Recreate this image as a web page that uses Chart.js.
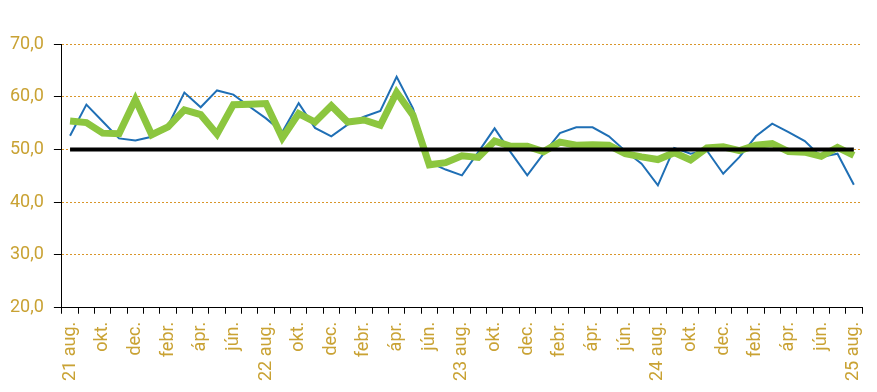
<!DOCTYPE html>
<html lang="hu">
<head>
  <meta charset="UTF-8" />
  <title>Index</title>
  <script src="https://cdn.jsdelivr.net/npm/chart.js"></script>
  <style>
    body { margin: 0; background: #fff; }
    .chart-box { width: 877px; height: 392px; }
  </style>
</head>
<body>
  <div class="chart-box"><canvas id="chart" width="877" height="392"></canvas></div>

  <script>
    const months = [
      '21 aug.', 'szept.', 'okt.', 'nov.', 'dec.', 'jan.', 'febr.', 'márc.', 'ápr.', 'máj.', 'jún.', 'júl.',
      '22 aug.', 'szept.', 'okt.', 'nov.', 'dec.', 'jan.', 'febr.', 'márc.', 'ápr.', 'máj.', 'jún.', 'júl.',
      '23 aug.', 'szept.', 'okt.', 'nov.', 'dec.', 'jan.', 'febr.', 'márc.', 'ápr.', 'máj.', 'jún.', 'júl.',
      '24 aug.', 'szept.', 'okt.', 'nov.', 'dec.', 'jan.', 'febr.', 'márc.', 'ápr.', 'máj.', 'jún.', 'júl.',
      '25 aug.'
    ];

    const blueSeries = [
      52.6, 58.5, 55.3, 52.1, 51.7, 52.4, 54.5, 60.8, 58.0, 61.2, 60.4, 58.1,
      55.9, 53.3, 58.8, 54.1, 52.5, 54.7, 56.2, 57.3, 63.8, 57.8, 47.6, 46.2,
      45.1, 49.5, 54.0, 49.4, 45.1, 49.2, 53.1, 54.2, 54.2, 52.5, 49.7, 47.3,
      43.2, 50.3, 49.2, 49.8, 45.4, 48.6, 52.5, 54.9, 53.3, 51.6, 48.6, 49.2,
      43.3
    ];

    const greenSeries = [
      55.4, 55.1, 53.1, 53.0, 59.5, 52.8, 54.3, 57.5, 56.6, 52.9, 58.5, 58.6,
      58.7, 52.2, 56.8, 55.2, 58.3, 55.2, 55.6, 54.6, 60.8, 56.5, 47.1, 47.5,
      48.8, 48.5, 51.6, 50.6, 50.6, 49.6, 51.4, 50.8, 50.9, 50.8, 49.2, 48.6,
      48.1, 49.4, 48.0, 50.3, 50.5, 49.8, 50.8, 51.1, 49.6, 49.5, 48.7, 50.4,
      48.9
    ];

    const thresholdLine = [
      50, 50, 50, 50, 50, 50, 50, 50, 50, 50, 50, 50,
      50, 50, 50, 50, 50, 50, 50, 50, 50, 50, 50, 50,
      50, 50, 50, 50, 50, 50, 50, 50, 50, 50, 50, 50,
      50, 50, 50, 50, 50, 50, 50, 50, 50, 50, 50, 50,
      50
    ];

    const yTicks = [20, 30, 40, 50, 60, 70];

    const gold = '#c9a233';
    const fontFamily = "'Roboto', sans-serif";

    const ctx = document.getElementById('chart').getContext('2d');
    new Chart(ctx, {
      type: 'line',
      data: {
        labels: months,
        datasets: [
          {
            data: thresholdLine,
            borderColor: '#000000',
            borderWidth: 4,
            pointRadius: 0,
            order: 0
          },
          {
            data: greenSeries,
            borderColor: '#8cc63f',
            borderWidth: 7,
            pointRadius: 0,
            order: 1
          },
          {
            data: blueSeries,
            borderColor: '#1f6fb5',
            borderWidth: 2,
            pointRadius: 0,
            order: 2
          }
        ]
      },
      options: {
        responsive: false,
        animation: false,
        layout: { padding: { top: 44, right: 15, bottom: 3, left: 0 } },
        plugins: {
          legend: { display: false },
          tooltip: { enabled: false }
        },
        elements: { line: { tension: 0 } },
        scales: {
          x: {
            offset: true,
            // rotated end label should not push the plot in from the right
            afterFit: scale => { scale.paddingRight = 0; },
            grid: {
              offset: true,
              drawOnChartArea: false,
              tickLength: 6,
              tickColor: '#000000'
            },
            border: { color: '#000000', width: 1 },
            ticks: {
              autoSkip: false,
              maxRotation: 90,
              minRotation: 90,
              padding: 8,
              color: gold,
              font: { family: fontFamily, size: 18 },
              callback: (v, i) => (i % 2 === 0 ? months[i] : '')
            }
          },
          y: {
            min: 20,
            max: 70,
            afterBuildTicks: axis => { axis.ticks = yTicks.map(v => ({ value: v })); },
            grid: {
              color: '#d9962a',
              lineWidth: 1,
              tickLength: 8,
              tickColor: '#000000'
            },
            border: { color: '#000000', width: 1, dash: [2, 2] },
            ticks: {
              padding: 10,
              color: gold,
              font: { family: fontFamily, size: 18 },
              callback: v => v.toFixed(1).replace('.', ',')
            }
          }
        }
      }
    });
  </script>
</body>
</html>
